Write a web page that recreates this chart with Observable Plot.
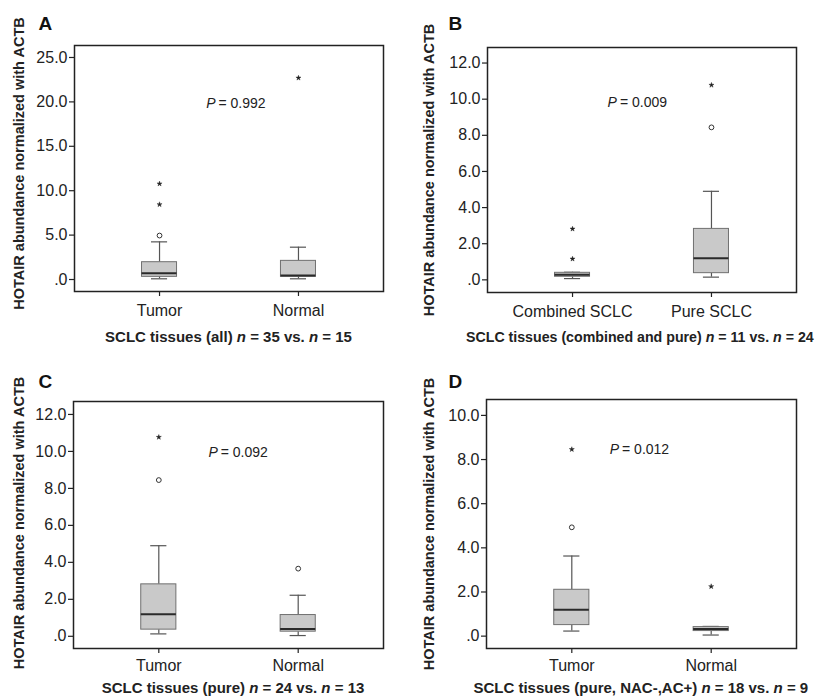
<!DOCTYPE html>
<html>
<head>
<meta charset="utf-8">
<script src="https://cdn.jsdelivr.net/npm/d3@7"></script>
<script src="https://cdn.jsdelivr.net/npm/@observablehq/plot@0.6"></script>
<style>
  html, body { margin: 0; padding: 0; background: #fff; }
  body { width: 820px; height: 696px; overflow: hidden; position: relative;
         font-family: "Liberation Sans", Arial, Helvetica, sans-serif; color: #222; }
  .panel { position: absolute; width: 410px; height: 348px; }
  .panel svg { position: absolute; left: 0; top: 0; overflow: visible; }
  .caption { position: absolute; white-space: nowrap; font-weight: bold; font-size: 15px;
             line-height: 20px; color: #222; }
</style>
</head>
<body>
<div id="root"></div>
<script>
// ---------------- data ----------------
const panelLetters = ["A", "B", "C", "D"];
const groupNames = [
  ["Tumor", "Normal"],
  ["Combined SCLC", "Pure SCLC"],
  ["Tumor", "Normal"],
  ["Tumor", "Normal"]
];
const whiskerLow  = [[0.08, 0.08], [0.07, 0.15], [0.13, 0.04], [0.23, 0.05]];
const q1          = [[0.30, 0.30], [0.17, 0.37], [0.36, 0.25], [0.50, 0.23]];
const medians     = [[0.71, 0.45], [0.28, 1.20], [1.19, 0.40], [1.19, 0.32]];
const q3          = [[1.95, 2.10], [0.39, 2.82], [2.81, 1.15], [2.10, 0.41]];
const whiskerHigh = [[4.24, 3.64], [0.42, 4.90], [4.90, 2.22], [3.63, 0.44]];
const circleOutliers = [
  [["Tumor", 4.95]],
  [["Pure SCLC", 8.44]],
  [["Tumor", 8.45], ["Normal", 3.66]],
  [["Tumor", 4.93]]
];
const starOutliers = [
  [["Tumor", 8.45], ["Tumor", 10.78], ["Normal", 22.7]],
  [["Combined SCLC", 1.16], ["Combined SCLC", 2.82], ["Pure SCLC", 10.78]],
  [["Tumor", 10.77]],
  [["Tumor", 8.46], ["Normal", 2.25]]
];
const pValues = ["0.992", "0.009", "0.092", "0.012"];
const yTicks = [
  [0, 5, 10, 15, 20, 25],
  [0, 2, 4, 6, 8, 10, 12],
  [0, 2, 4, 6, 8, 10, 12],
  [0, 2, 4, 6, 8, 10]
];
const yLabel = "HOTAIR abundance normalized with ACTB";
const captionHTML = [
  "SCLC tissues (all) <i>n</i> = 35 vs. <i>n</i> = 15",
  "SCLC tissues (combined and pure) <i>n</i> = 11 vs. <i>n</i> = 24",
  "SCLC tissues (pure) <i>n</i> = 24 vs. <i>n</i> = 13",
  "SCLC tissues (pure, NAC-,AC+) <i>n</i> = 18 vs. <i>n</i> = 9"
];

// ---------------- layout ----------------
const panelPos = [[0, 0], [410, 0], [0, 348], [410, 348]];
const yDomains = [[-1.35, 26.35], [-0.70, 12.86], [-0.66, 12.70], [-0.56, 10.72]];
const margins = [
  {left: 74, top: 45, right: 27, bottom: 57},
  {left: 77, top: 47, right: 24, bottom: 56},
  {left: 73, top: 53, right: 27, bottom: 48},
  {left: 76, top: 51, right: 24, bottom: 48}
];
const pAnchor = [[0.41, 19.8], [0.327, 9.82], [0.43, 9.95], [0.346, 8.46]];
const letterCenterY = [23.5, 23.3, 33, 33];
const yLabelDy = [-5, 0, -2, 0];
const xTickPad = [8, 8, 6, 6];
// [x, y, align ("center" | "left"), font size]
const captionPlace = [[228.5, 327, "center", 15], [56, 327, "left", 14.2], [233, 330, "center", 15], [230.8, 330, "center", 15]];

const FONT = '"Liberation Sans", Arial, Helvetica, sans-serif';
const root = document.getElementById("root");
const half = 0.126, capHalf = 0.058;

panelLetters.forEach((letter, p) => {
  const names = groupNames[p];
  const stats = names.map((name, i) => ({
    i, name,
    lo: whiskerLow[p][i], q1: q1[p][i], med: medians[p][i], q3: q3[p][i], hi: whiskerHigh[p][i]
  }));
  const circles = circleOutliers[p].map(([g, v]) => ({i: names.indexOf(g), v}));
  const stars = starOutliers[p].map(([g, v]) => ({i: names.indexOf(g), v}));
  const m = margins[p];
  const fmt = d => d === 0 ? ".0" : d.toFixed(1);

  const chart = Plot.plot({
    width: 410, height: 348,
    marginLeft: m.left, marginTop: m.top, marginRight: m.right, marginBottom: m.bottom,
    style: {fontFamily: FONT, fontSize: "16px", color: "#222", background: "transparent", overflow: "visible"},
    x: {type: "linear", domain: [-0.612, 1.612]},
    y: {domain: yDomains[p]},
    marks: [
      Plot.frame({stroke: "#222", strokeWidth: 1.5}),
      Plot.axisY({ticks: yTicks[p], tickFormat: fmt, tickSize: 5, tickPadding: 2, label: null, fontSize: 16, strokeWidth: 1.2}),
      Plot.axisX({ticks: [0, 1], tickFormat: i => names[i], tickSize: 5, tickPadding: xTickPad[p], label: null, fontSize: 16, strokeWidth: 1.2}),
      // whiskers
      Plot.ruleX(stats, {x: "i", y1: "q3", y2: "hi", stroke: "#555", strokeWidth: 1.2}),
      Plot.ruleX(stats, {x: "i", y1: "lo", y2: "q1", stroke: "#555", strokeWidth: 1.2}),
      Plot.ruleY(stats, {y: "hi", x1: d => d.i - capHalf, x2: d => d.i + capHalf, stroke: "#555", strokeWidth: 1.2}),
      Plot.ruleY(stats, {y: "lo", x1: d => d.i - capHalf, x2: d => d.i + capHalf, stroke: "#555", strokeWidth: 1.2}),
      // boxes
      Plot.rect(stats, {x1: d => d.i - half, x2: d => d.i + half, y1: "q1", y2: "q3", fill: "#c9c9c9", stroke: "#707070", strokeWidth: 1}),
      Plot.ruleY(stats, {y: "med", x1: d => d.i - half, x2: d => d.i + half, stroke: "#2a2a2a", strokeWidth: 2}),
      // outliers
      Plot.dot(circles, {x: "i", y: "v", r: 2.4, stroke: "#333", fill: "white", strokeWidth: 1}),
      Plot.dot(stars, {x: "i", y: "v", symbol: "star", r: 1.6, fill: "#222", stroke: "#222", strokeWidth: 0.4}),
      // P value annotation
      Plot.text(["P"], {x: pAnchor[p][0], y: pAnchor[p][1], textAnchor: "end", fontStyle: "italic", fontSize: 14, fill: "#222", dx: -1}),
      Plot.text(["= " + pValues[p]], {x: pAnchor[p][0], y: pAnchor[p][1], textAnchor: "start", fontSize: 14, fill: "#222", dx: 2}),
      // y-axis title
      Plot.text([yLabel], {frameAnchor: "left", rotate: -90, dx: 19 - m.left, dy: yLabelDy[p], textAnchor: "middle", lineAnchor: "middle", fontWeight: "bold", fontSize: 14.5, fill: "#222"}),
      // panel letter
      Plot.text([letter], {frameAnchor: "top-left", dx: 38 - m.left, dy: letterCenterY[p] - m.top, textAnchor: "start", lineAnchor: "middle", fontWeight: "bold", fontSize: 19, fill: "#111"})
    ]
  });

  const div = document.createElement("div");
  div.className = "panel";
  div.style.left = panelPos[p][0] + "px";
  div.style.top = panelPos[p][1] + "px";
  div.appendChild(chart);
  const cap = document.createElement("div");
  cap.className = "caption";
  const [cx, cy, align, fs] = captionPlace[p];
  cap.style.left = cx + "px";
  cap.style.top = cy + "px";
  cap.style.fontSize = fs + "px";
  if (align === "center") cap.style.transform = "translateX(-50%)";
  cap.innerHTML = captionHTML[p];
  div.appendChild(cap);
  root.appendChild(div);
});
</script>
</body>
</html>
